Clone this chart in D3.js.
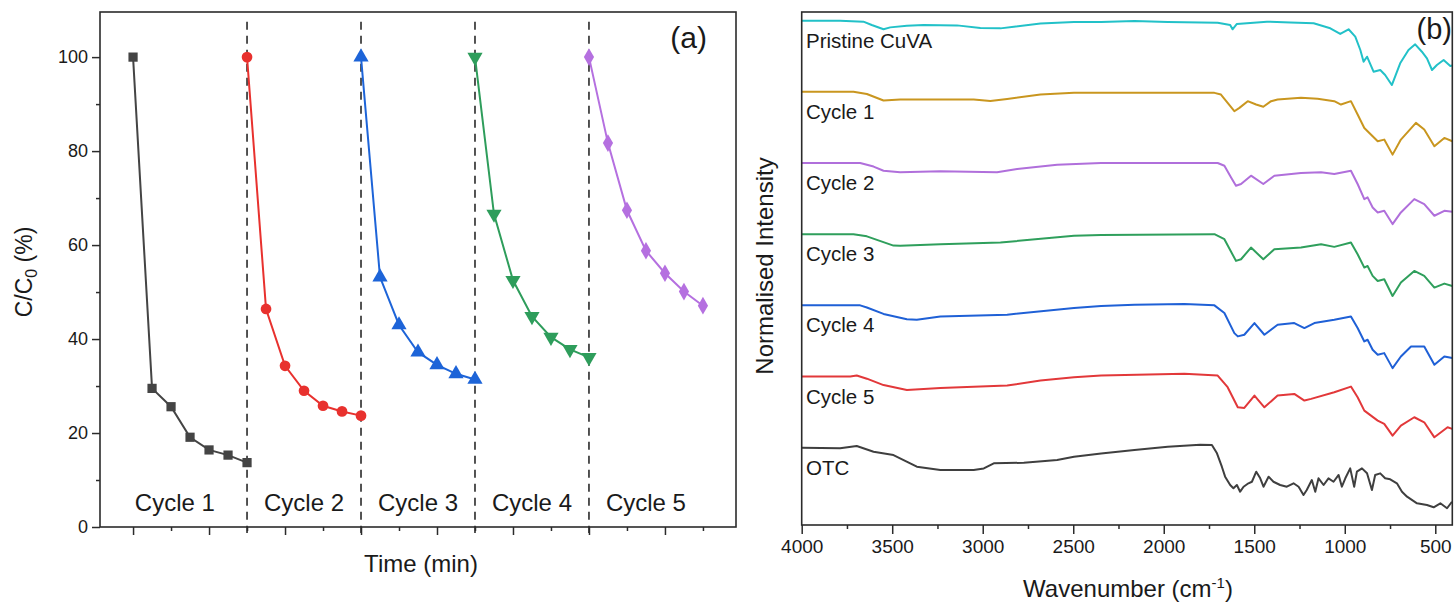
<!DOCTYPE html>
<html>
<head>
<meta charset="utf-8">
<script src="https://cdn.jsdelivr.net/npm/d3@7"></script>
<style>
  html, body { margin: 0; padding: 0; background: #fff; }
  svg { display: block; }
  text { font-family: "Liberation Sans", Arial, sans-serif; fill: #1a1a1a; }
</style>
</head>
<body>
<svg id="chart" width="1455" height="607"></svg>
<script>
// ---------- (a) photocatalytic cycles: C/C0 (%) vs time ----------
const sampleTimes = [0, 10, 20, 30, 40, 50, 60];   // min within a cycle
const cycleLength = 60;
const cycleNames = ["Cycle 1", "Cycle 2", "Cycle 3", "Cycle 4", "Cycle 5"];
const cycle1 = [100, 29.5, 25.6, 19.1, 16.4, 15.3, 13.7];
const cycle2 = [100, 46.4, 34.3, 29.0, 25.8, 24.6, 23.7];
const cycle3 = [100, 53.2, 43.0, 37.2, 34.5, 32.6, 31.4];
const cycle4 = [100, 66.6, 52.5, 44.8, 40.4, 37.8, 36.1];
const cycle5 = [100, 81.7, 67.4, 58.8, 54.0, 50.1, 47.1];
const cycleColors = ["#444444", "#e8312e", "#1d64d8", "#2e9d5b", "#b570e0"];
const yTicksA = [0, 20, 40, 60, 80, 100];
const yMinorA = [10, 30, 50, 70, 90];
const xTicksA = [0, 40, 80, 120, 160, 200, 240, 280];
const xMinorA = [20, 60, 100, 140, 180, 220, 260, 300];
const cycleLabelTimes = [22, 90, 150, 210, 270];

// ---------- (b) FTIR spectra: [wavenumber cm-1, relative intensity] ----------
const pristine = [[4000,100],[3788,100],[3659,98.6],[3613,94],[3548,88],[3511,90.6],[3419,93],[3327,94],[3142,93.4],[3013,89.7],[2902,89.2],[2828,91.5],[2681,96],[2496,98],[2346,98],[2162,99.5],[1978,98],[1702,97],[1633,94],[1620,87.9],[1596,95.4],[1430,98.6],[1300,97.5],[1172,96.4],[1080,89.3],[1025,81.3],[979,87.9],[942,77.5],[914,58.8],[896,42.4],[877,49.4],[841,28.3],[804,30.7],[777,23.7],[740,9.6],[694,40.1],[648,58.8],[611,66.8],[574,56.4],[546,47.1],[518,30.7],[491,37.7],[454,44.7],[417,36.3],[406,37]];
const run1 = [[4000,100],[3714,100],[3640,97],[3548,87.8],[3456,89.2],[3234,89.2],[3050,89.2],[2958,87],[2865,90],[2681,96.2],[2496,98.6],[2346,98.6],[1720,98.6],[1684,96.2],[1647,84.5],[1610,72.8],[1582,77.5],[1536,86.9],[1490,82.2],[1450,79],[1407,86.9],[1371,89.2],[1242,91.6],[1150,90.2],[1058,86.9],[1021,82.2],[966,86.9],[929,68.1],[892,49.3],[874,44.7],[846,37.6],[818,30.6],[782,32.9],[736,11.8],[690,32.9],[607,56.4],[561,47],[505,23.6],[450,35.3],[406,30.6]];
const run2 = [[4000,100],[3677,100],[3603,95],[3548,89.2],[3456,86.9],[3234,88.3],[2921,86.9],[2810,91.6],[2589,97.7],[2346,100],[1702,100],[1665,96.2],[1628,79.8],[1601,68.1],[1573,70.5],[1518,82.2],[1450,70.5],[1389,82.2],[1242,85.9],[1131,86.9],[1058,84.5],[966,89.2],[929,70.5],[892,49.3],[874,51.7],[846,37.6],[818,30.6],[782,32.9],[736,14.2],[690,30.6],[616,49.3],[561,42.3],[505,25.9],[450,32.9],[406,31.5]];
const run3 = [[4000,100],[3714,100],[3640,97],[3493,84],[3456,83.6],[3234,85.9],[2902,88.3],[2496,97.7],[2346,99],[1720,100],[1665,93],[1601,62.5],[1573,64.8],[1518,81.2],[1450,64.8],[1389,78.9],[1242,81.2],[1131,85.9],[1058,82.2],[966,88.3],[929,71.9],[892,53.1],[874,55.4],[846,41.4],[818,34.3],[782,36.7],[736,13.2],[690,32],[616,48.4],[561,41.4],[505,25],[450,30.6],[406,27.3]];
const run4 = [[4000,100],[3677,100],[3640,97],[3548,88],[3419,80.5],[3364,79.8],[3234,84.5],[2865,86.9],[2496,96.2],[2346,99],[2162,101],[1886,101.9],[1720,100],[1665,89.2],[1610,61],[1591,56.4],[1555,58.7],[1499,75.1],[1444,58.7],[1371,72.8],[1279,75.1],[1223,68.1],[1168,75.1],[1058,79.8],[966,84.5],[929,68.1],[892,49.3],[874,51.7],[846,37.6],[818,30.6],[782,32.9],[736,11.8],[690,28.2],[634,42.3],[561,42.3],[505,16.5],[450,28.2],[406,25.9]];
const run5 = [[4000,100],[3732,100],[3696,101.4],[3640,97],[3548,88],[3419,81.2],[3234,84],[2865,87.3],[2681,94.4],[2496,99.1],[2346,101.4],[1886,103.8],[1702,101.4],[1647,85],[1591,56.8],[1555,55.9],[1499,73.3],[1444,56.8],[1371,73.3],[1279,75.6],[1223,66.2],[1186,68.6],[1058,78],[966,85.9],[929,70.9],[892,52.1],[855,45.1],[818,38.1],[782,33.4],[736,17],[690,31],[616,42.8],[561,35.7],[505,14.6],[432,28.7],[406,26.4]];
const otc = [[4000,100],[3788,99.1],[3696,102.3],[3603,94.4],[3493,89.7],[3437,82.6],[3364,73.3],[3234,68.6],[3050,68.6],[2994,70.9],[2939,78],[2773,78.9],[2589,82.6],[2496,87.3],[2346,92],[2162,96.7],[1978,101.4],[1799,104],[1734,103.8],[1706,92.1],[1679,73.3],[1661,59.3],[1633,47.6],[1615,43],[1596,47.6],[1578,38.2],[1559,45.2],[1532,50],[1513,52.2],[1489,66.3],[1467,57],[1449,45.2],[1421,59.3],[1394,52.2],[1357,47.6],[1320,45.2],[1283,50],[1255,45.2],[1228,33.6],[1210,40.6],[1182,54.6],[1163,38.2],[1145,57],[1117,47.6],[1090,57],[1062,52.2],[1034,61.7],[1016,45.2],[997,57],[970,71],[948,45.2],[933,66.3],[905,71],[877,64],[850,40.6],[832,61.7],[804,64],[777,57],[749,55.6],[712,50],[684,38.2],[656,31.2],[601,21.9],[546,19.5],[509,16.3],[472,21.9],[435,14.9],[408,24.1]];
const spectra = [
  { name: "Pristine CuVA", data: pristine, color: "#22c1c8", offset: 600 },
  { name: "Cycle 1", data: run1, color: "#c9961f", offset: 500 },
  { name: "Cycle 2", data: run2, color: "#b06fdb", offset: 400 },
  { name: "Cycle 3", data: run3, color: "#2f9f5c", offset: 300 },
  { name: "Cycle 4", data: run4, color: "#1f60d6", offset: 200 },
  { name: "Cycle 5", data: run5, color: "#e2383a", offset: 100 },
  { name: "OTC", data: otc, color: "#3f3f3f", offset: 0 }
];
const xTicksB = [4000, 3500, 3000, 2500, 2000, 1500, 1000, 500];
const xMinorB = [3750, 3250, 2750, 2250, 1750, 1250, 750];

const svg = d3.select("#chart");
svg.append("rect").attr("width", 1455).attr("height", 607).attr("fill", "#fff");
const axisColor = "#2b2b2b";

// ===== Panel (a) =====
const xA = d3.scaleLinear().domain([-17.4, 317.4]).range([100, 736]);
const yA = d3.scaleLinear().domain([0, 109.6]).range([527, 12]);
const gA = svg.append("g");

// cycle separators
gA.selectAll("line.sep").data([60, 120, 180, 240]).join("line")
  .attr("x1", d => xA(d)).attr("x2", d => xA(d))
  .attr("y1", yA(107.5)).attr("y2", yA(0) + 6)
  .attr("stroke", "#2a2a2a").attr("stroke-width", 1.6)
  .attr("stroke-dasharray", "8,6");

// axes
function styleAxis(g) {
  g.select(".domain").remove();
  g.selectAll(".tick line").attr("stroke", axisColor).attr("stroke-width", 1.5);
  g.selectAll(".tick text").attr("font-size", 18).attr("fill", "#1a1a1a")
    .attr("font-family", "'Liberation Sans', Arial, sans-serif");
}
gA.append("g").attr("transform", "translate(100,0)")
  .call(d3.axisLeft(yA).tickValues(yTicksA).tickSize(8).tickPadding(4))
  .call(styleAxis);
gA.append("g").attr("transform", "translate(100,0)")
  .call(d3.axisLeft(yA).tickValues(yMinorA).tickSize(4).tickFormat(""))
  .call(styleAxis);
gA.append("g").attr("transform", "translate(0,527)")
  .call(d3.axisBottom(xA).tickValues(xTicksA).tickSize(8).tickFormat(""))
  .call(styleAxis);
gA.append("g").attr("transform", "translate(0,527)")
  .call(d3.axisBottom(xA).tickValues(xMinorA).tickSize(4).tickFormat(""))
  .call(styleAxis);
gA.append("rect").attr("x", 100).attr("y", 12).attr("width", 636).attr("height", 515)
  .attr("fill", "none").attr("stroke", axisColor).attr("stroke-width", 1.6);

// series
const cycles = [cycle1, cycle2, cycle3, cycle4, cycle5];
const symbols = [d3.symbolSquare, d3.symbolCircle, d3.symbolTriangle, d3.symbolTriangle, d3.symbolDiamond];
const symSizes = [85, 90, 100, 100, 90];
const lineA = d3.line().x(d => xA(d.t)).y(d => yA(d.v));
cycles.forEach((vals, i) => {
  const pts = vals.map((v, j) => ({ t: i * cycleLength + sampleTimes[j], v }));
  gA.append("path").datum(pts).attr("d", lineA)
    .attr("fill", "none").attr("stroke", cycleColors[i]).attr("stroke-width", 2);
  gA.selectAll(null).data(pts).join("path")
    .attr("d", d3.symbol().type(symbols[i]).size(symSizes[i]))
    .attr("transform", d => `translate(${xA(d.t)},${yA(d.v)})` + (i === 3 ? " rotate(180)" : ""))
    .attr("fill", cycleColors[i]);
});

// cycle captions
gA.selectAll("text.cyc").data(cycleNames).join("text")
  .attr("x", (d, i) => xA(cycleLabelTimes[i])).attr("y", 511)
  .attr("text-anchor", "middle").attr("font-size", 24).text(d => d);

// axis titles
gA.append("text").attr("x", 421).attr("y", 572).attr("text-anchor", "middle")
  .attr("font-size", 24).text("Time (min)");
const yTitleA = gA.append("text").attr("transform", "translate(32,272) rotate(-90)")
  .attr("text-anchor", "middle").attr("font-size", 23);
yTitleA.append("tspan").text("C/C");
yTitleA.append("tspan").attr("font-size", 16).attr("dy", 5).text("0");
yTitleA.append("tspan").attr("dy", -5).text(" (%)");

gA.append("text").attr("x", 707).attr("y", 48).attr("text-anchor", "end")
  .attr("font-family", "'Open Sans', sans-serif").attr("font-size", 30).text("(a)");

// ===== Panel (b) =====
const xB = d3.scaleLinear().domain([4000, 406]).range([801.7, 1452.3]);
const yB = d3.scaleLinear().domain([-8.6, 712.2]).range([525, 12]);
const gB = svg.append("g");

svg.append("defs").append("clipPath").attr("id", "clipB")
  .append("rect").attr("x", 801.7).attr("y", 12).attr("width", 650.6).attr("height", 513);

gB.append("g").attr("transform", "translate(0,525)")
  .call(d3.axisBottom(xB).tickValues(xTicksB).tickSize(9).tickPadding(6).tickFormat(d3.format("d")))
  .call(styleAxis);
gB.append("g").attr("transform", "translate(0,525)")
  .call(d3.axisBottom(xB).tickValues(xMinorB).tickSize(4).tickFormat(""))
  .call(styleAxis);
gB.selectAll(".tick text").attr("font-size", 19);

const lineB = d3.line().x(d => xB(d[0])).y(d => yB(d[1]));
const traces = gB.append("g").attr("clip-path", "url(#clipB)");
spectra.forEach(s => {
  traces.append("path")
    .datum(s.data.map(p => [p[0], p[1] + s.offset]))
    .attr("d", lineB).attr("fill", "none")
    .attr("stroke", s.color).attr("stroke-width", 2).attr("stroke-linejoin", "round");
  gB.append("text").attr("x", 806).attr("y", yB(s.offset + 62))
    .attr("font-size", 20.5).text(s.name);
});

gB.append("rect").attr("x", 801.7).attr("y", 12).attr("width", 650.6).attr("height", 513)
  .attr("fill", "none").attr("stroke", axisColor).attr("stroke-width", 1.6);

const xTitleB = gB.append("text").attr("x", 1128).attr("y", 597)
  .attr("text-anchor", "middle").attr("font-size", 24);
xTitleB.append("tspan").text("Wavenumber (cm");
xTitleB.append("tspan").attr("font-size", 15).attr("dy", -9).text("-1");
xTitleB.append("tspan").attr("dy", 9).text(")");

gB.append("text").attr("transform", "translate(773,266) rotate(-90)")
  .attr("text-anchor", "middle").attr("font-size", 24).text("Normalised Intensity");

gB.append("text").attr("x", 1452).attr("y", 39).attr("text-anchor", "end")
  .attr("font-family", "'Open Sans', sans-serif").attr("font-size", 29).text("(b)");
</script>
</body>
</html>
